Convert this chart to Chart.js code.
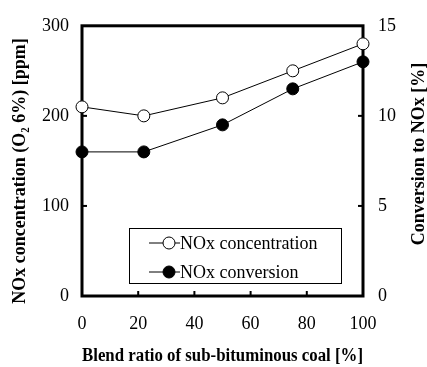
<!DOCTYPE html>
<html>
<head>
<meta charset="utf-8">
<script src="https://cdn.jsdelivr.net/npm/chart.js"></script>
<style>
html,body{margin:0;padding:0;background:#fff;}
#wrap{width:427px;height:367px;}
</style>
</head>
<body>
<div id="wrap"><canvas id="nox"></canvas></div>
<script>
// blend ratio [%]
const blendRatio = [0, 22, 50, 75, 100];
// NOx concentration (O2 6%) [ppm]  (left axis)
const noxConc = [210, 200, 220, 250, 280];
// conversion to NOx [%]  (right axis)
const noxConv = [8, 8, 9.5, 11.5, 13];

const leftTitle = "NOx concentration (O₂ 6%) [ppm]";
const rightTitle = "Conversion to NOx [%]";

const serif = "'Liberation Serif','Times New Roman',serif";

function pts(xs, ys){
return xs.map((x,i)=>({x:x,y:ys[i]}));
}

/* -------- frame + inward ticks -------- */
const framePlugin = {
id:"frame",
beforeDatasetsDraw(chart){
const c = chart.ctx, a = chart.chartArea;
c.save();
c.strokeStyle = "#000";
c.lineWidth = 2;
const len = 5;
chart.scales.x.ticks.forEach(t=>{
if(t.value<=0 || t.value>=100) return;
const px = chart.scales.x.getPixelForValue(t.value);
c.beginPath(); c.moveTo(px,a.bottom); c.lineTo(px,a.bottom-len); c.stroke();
});
chart.scales.y.ticks.forEach(t=>{
if(t.value<=0 || t.value>=300) return;
const py = chart.scales.y.getPixelForValue(t.value);
c.beginPath(); c.moveTo(a.left,py); c.lineTo(a.left+len,py); c.stroke();
});
chart.scales.y2.ticks.forEach(t=>{
if(t.value<=0 || t.value>=15) return;
const py = chart.scales.y2.getPixelForValue(t.value);
c.beginPath(); c.moveTo(a.right,py); c.lineTo(a.right-len,py); c.stroke();
});
c.lineWidth = 3;
c.strokeRect(a.left, a.top, a.right-a.left, a.bottom-a.top);
c.restore();
}
};

/* -------- vertical axis titles (both read bottom to top) -------- */
const titlePlugin = {
id:"vTitles",
afterDraw(chart){
const c = chart.ctx;
c.save();
c.fillStyle = "#000";
c.font = "bold 18px " + serif;
c.textAlign = "center";
c.textBaseline = "middle";
[[20,171,leftTitle],[419,154,rightTitle]].forEach(t=>{
c.save();
c.translate(t[0],t[1]);
c.rotate(-Math.PI/2);
c.fillText(t[2],0,0);
c.restore();
});
c.restore();
}
};

/* -------- legend box inside plot -------- */
const legendPlugin = {
id:"boxLegend",
afterDraw(chart){
const c = chart.ctx;
const bx = 129, by = 228, bw = 212, bh = 55;
c.save();
c.fillStyle = "#fff";
c.fillRect(bx,by,bw,bh);
c.strokeStyle = "#000";
c.lineWidth = 1;
c.strokeRect(bx+0.5,by+0.5,bw,bh);
c.font = "18px " + serif;
c.textBaseline = "middle";
chart.data.datasets.forEach((ds,i)=>{
const y = by + 15 + i*29;
c.beginPath();
c.moveTo(bx+20,y); c.lineTo(bx+51,y);
c.lineWidth = 1; c.strokeStyle = "#000"; c.stroke();
c.beginPath();
c.arc(bx+40,y,6,0,Math.PI*2);
c.fillStyle = ds.pointBackgroundColor;
c.fill(); c.stroke();
c.fillStyle = "#000";
c.fillText(ds.label, bx+51, y+1);
});
c.restore();
}
};

new Chart(document.getElementById("nox"),{
type:"line",
data:{
datasets:[
{
label:"NOx concentration",
data:pts(blendRatio,noxConc),
yAxisID:"y",
borderColor:"#000",
borderWidth:1,
pointRadius:6,
pointBackgroundColor:"#fff",
pointBorderColor:"#000",
pointBorderWidth:1,
clip:false
},
{
label:"NOx conversion",
data:pts(blendRatio,noxConv),
yAxisID:"y2",
borderColor:"#000",
borderWidth:1,
pointRadius:6,
pointBackgroundColor:"#000",
pointBorderColor:"#000",
pointBorderWidth:1,
clip:false
}
]
},
options:{
responsive:true,
maintainAspectRatio:false,
animation:false,
devicePixelRatio:1,
layout:{padding:{top:16,left:0,right:0,bottom:0}},
plugins:{legend:{display:false},tooltip:{enabled:false}},
scales:{
x:{
type:"linear",
min:0,max:100,
afterFit(s){ s.height = 71; },
grid:{display:false,drawTicks:false},
border:{display:false},
ticks:{stepSize:20,color:"#000",padding:17,font:{family:serif,size:18}},
title:{display:true,text:"Blend ratio of sub-bituminous coal [%]",color:"#000",
font:{family:serif,size:18,weight:"bold"},padding:{top:0,bottom:0}}
},
y:{
position:"left",
min:0,max:300,
afterFit(s){ s.width = 82; },
grid:{display:false,drawTicks:false},
border:{display:false},
ticks:{stepSize:100,color:"#000",padding:13,font:{family:serif,size:18}}
},
y2:{
position:"right",
min:0,max:15,
afterFit(s){ s.width = 64; },
grid:{display:false,drawTicks:false},
border:{display:false},
ticks:{stepSize:5,color:"#000",padding:15,font:{family:serif,size:18}}
}
}
},
plugins:[framePlugin,titlePlugin,legendPlugin]
});
</script>
</body>
</html>
